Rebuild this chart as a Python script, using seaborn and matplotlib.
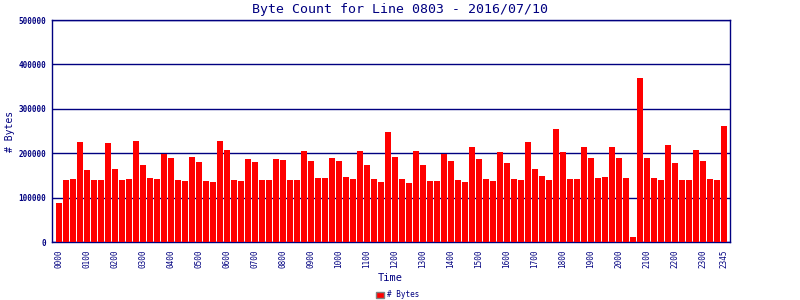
import matplotlib
matplotlib.use("Agg")
import matplotlib.pyplot as plt
import seaborn as sns
import pandas as pd
from matplotlib.patches import Patch

times = [f"{h:02d}{m:02d}" for h in range(24) for m in (0, 15, 30, 45)]
byte_counts = [
    89000, 139000, 142000, 226000, 162000, 139000, 139000, 223000,
    164000, 139000, 142000, 228000, 173000, 144000, 142000, 198000,
    189000, 139000, 137000, 192000, 180000, 137000, 135000, 228000,
    208000, 139000, 137000, 187000, 180000, 139000, 139000, 187000,
    185000, 139000, 139000, 205000, 183000, 144000, 144000, 189000,
    183000, 146000, 142000, 205000, 173000, 142000, 135000, 248000,
    192000, 142000, 133000, 205000, 173000, 137000, 137000, 198000,
    183000, 139000, 135000, 214000, 187000, 142000, 137000, 203000,
    178000, 142000, 139000, 226000, 164000, 148000, 139000, 255000,
    203000, 142000, 142000, 214000, 189000, 144000, 146000, 214000,
    189000, 144000, 12000, 369000, 189000, 144000, 139000, 219000,
    178000, 139000, 139000, 208000, 183000, 142000, 139000, 262000,
]
tick_labels = [t for t in times if t.endswith("00")] + ["2345"]
y_ticks = [0, 100000, 200000, 300000, 400000, 500000]

navy = "#000080"
mono = ["DejaVu Sans Mono"]

df = pd.DataFrame({"time": times, "bytes": byte_counts})

sns.set_style("white")
fig = plt.figure(figsize=(8, 3), dpi=100)
ax = fig.add_axes([0.065, 0.193, 0.8475, 0.74])

sns.barplot(data=df, x="time", y="bytes", color="#ff0000", saturation=1,
            width=0.86, ax=ax, edgecolor="none", zorder=3)

ax.set_xlim(-1.0, 95.86)
ax.set_ylim(0, 500000)
ax.set_yticks(y_ticks)
ax.set_yticklabels([str(v) for v in y_ticks], fontsize=5.5, fontweight="bold",
                   color=navy, family=mono)
pos = [times.index(t) for t in tick_labels]
ax.set_xticks(pos)
ax.set_xticklabels(tick_labels, rotation=90, fontsize=5.5, color=navy, family=mono)
ax.tick_params(axis="both", length=0)
ax.tick_params(axis="x", pad=5)
ax.tick_params(axis="y", pad=4)
ax.grid(axis="y", color=navy, linewidth=1.0, zorder=1)
for s in ax.spines.values():
    s.set_color(navy)
    s.set_linewidth(1.0)
ax.set_xlabel("")
ax.set_ylabel("")

fig.text(0.5, 0.968, "Byte Count for Line 0803 - 2016/07/10", ha="center", va="center",
         fontsize=9.5, color=navy, family=mono)
fig.text(0.4875, 0.073, "Time", ha="center", va="center", fontsize=7.5,
         color=navy, family=mono)
fig.text(0.012, 0.563, "# Bytes", ha="center", va="center", rotation=90,
         fontsize=7, color=navy, family=mono)
fig.legend(handles=[Patch(facecolor="#ff0000", edgecolor="#808080", label="# Bytes")],
           loc="center", bbox_to_anchor=(0.497, 0.017), frameon=False,
           prop={"family": mono, "size": 5.5}, handlelength=1.1, handleheight=0.9,
           handletextpad=0.3, labelcolor=navy, borderpad=0)

fig.savefig("out.png", dpi=100)
